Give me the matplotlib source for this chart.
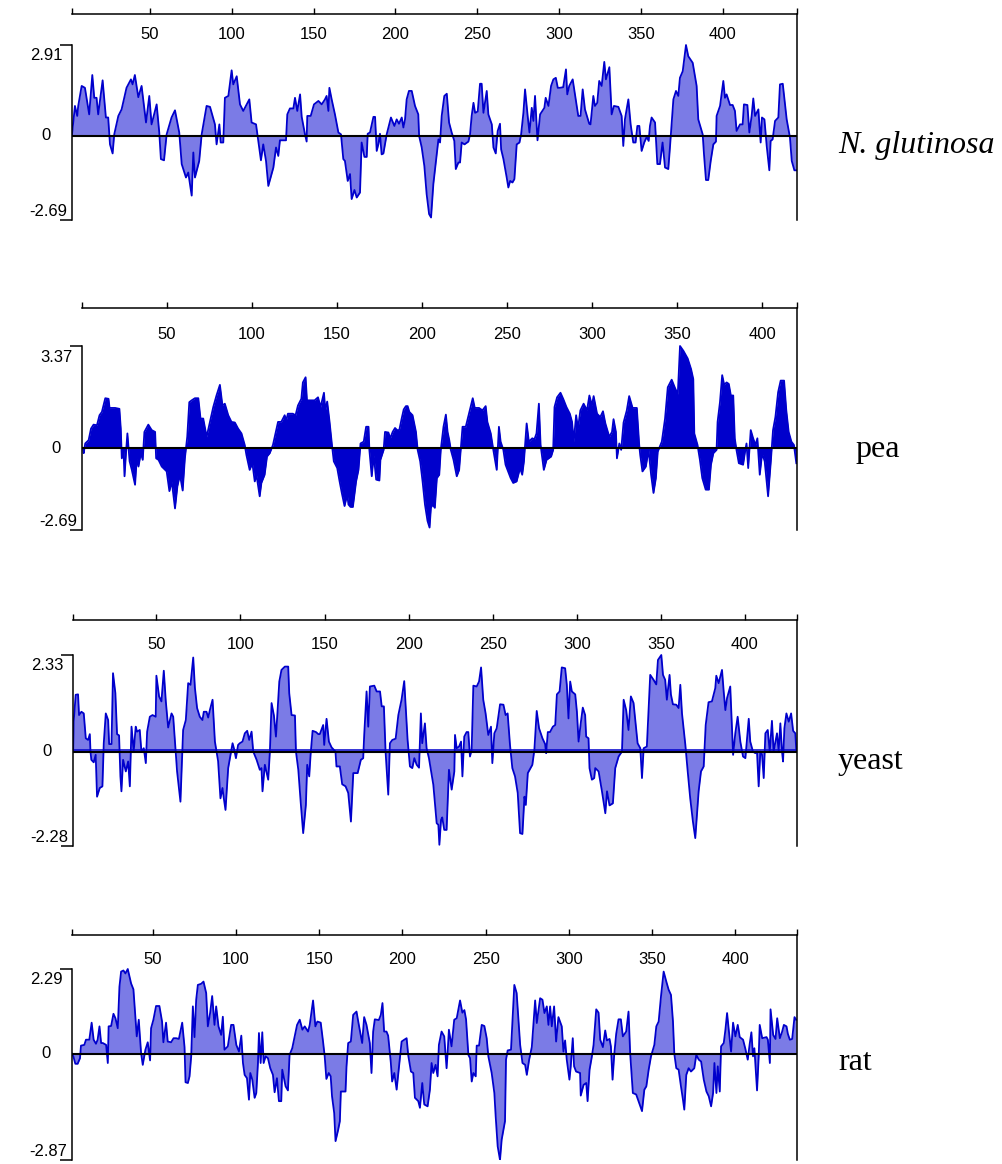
import matplotlib
matplotlib.use("Agg")
import matplotlib.pyplot as plt

# hydropathy values, (residue, value)
nglut = [
    (2.5, 0.05), (4.3, 0.96), (5.7, 0.64), (6.3, 0.96), (8.4, 1.6), (10.4, 1.54), (13.0, 0.69), (14.9, 1.95),
    (16.1, 1.22), (17.5, 1.22), (18.5, 0.69), (21.2, 1.78), (23.2, 0.59), (24.6, 0.59), (25.7, -0.27), (27.3, -0.56),
    (28.3, 0.05), (30.8, 0.64), (32.8, 0.85), (35.8, 1.54), (38.5, 1.81), (39.5, 1.65), (40.9, 1.95), (43.0, 1.24),
    (45.0, 1.6), (47.7, 0.43), (49.7, 1.28), (51.1, 0.37), (54.2, 1.01), (55.8, 0.11), (56.8, -0.74), (58.7, -0.78),
    (60.3, 0.05), (63.3, 0.59), (65.4, 0.82), (68.0, 0.11), (69.5, -0.9), (72.1, -1.33), (73.5, -1.17), (75.6, -1.91),
    (76.6, -0.53), (77.6, -1.33), (80.2, -0.8), (81.7, 0.05), (84.7, 0.96), (86.8, 0.93), (89.8, 0.37), (90.8, -0.27),
    (92.5, 0.37), (93.3, -0.21), (94.9, -0.21), (95.9, 1.22), (98.0, 1.28), (100.0, 2.1), (101.0, 1.65), (103.1, 1.91),
    (105.1, 1.01), (107.1, 0.8), (110.8, 1.17), (112.2, 0.43), (114.9, 0.37), (116.3, -0.16), (117.9, -0.78), (119.3, -0.27),
    (121.0, -0.8), (122.4, -1.6), (125.5, -1.01), (127.1, -0.37), (128.5, -0.64), (129.5, -0.14), (133.2, -0.14), (134.0, 0.69),
    (135.6, 0.88), (137.7, 0.88), (138.7, 1.22), (140.1, 0.8), (141.8, 1.33), (142.8, 0.61), (144.8, 0.05), (145.8, -0.18),
    (146.2, 0.64), (148.3, 0.64), (150.3, 1.01), (153.0, 1.12), (155.0, 1.01), (157.0, 1.17), (158.0, 1.28), (159.1, 0.8),
    (159.7, 1.54), (161.1, 1.17), (163.1, 0.69), (165.2, 0.11), (166.8, 0.05), (168.2, -0.74), (169.2, -0.8), (170.9, -1.44),
    (172.3, -1.22), (173.3, -2.02), (175.0, -1.73), (176.4, -1.97), (178.4, -1.81), (179.4, -0.21), (181.1, -0.67), (182.5, -0.67),
    (183.1, 0.07), (184.5, 0.11), (186.6, 0.61), (187.6, 0.61), (188.6, -0.48), (189.6, -0.27), (190.6, 0.07), (191.6, -0.59),
    (192.7, -0.56), (194.7, 0.05), (197.3, 0.59), (199.4, 0.32), (200.8, 0.53), (202.2, 0.39), (203.9, 0.59), (204.9, 0.27),
    (205.9, 0.53), (206.9, 1.17), (208.3, 1.44), (210.0, 1.44), (212.0, 0.96), (214.0, 0.69), (214.5, 0.0), (216.1, -0.37),
    (217.7, -0.96), (219.1, -1.86), (220.6, -2.5), (221.8, -2.61), (223.2, -1.54), (224.6, -0.9), (226.3, -0.11), (227.3, -0.21),
    (228.3, 0.64), (229.9, 1.28), (231.4, 1.35), (232.8, 0.43), (234.4, 0.11), (236.0, -0.16), (236.9, -1.06), (238.5, -0.85),
    (239.5, -0.85), (240.5, -0.21), (242.2, -0.27), (244.6, -0.18), (245.6, 0.05), (246.6, 0.64), (247.7, 1.06), (248.7, 0.74),
    (250.3, 0.78), (251.7, 1.67), (252.7, 1.67), (253.8, 0.74), (255.8, 1.44), (256.8, 0.69), (258.9, 0.37), (259.9, -0.37),
    (261.3, -0.56), (262.5, 0.16), (263.9, 0.39), (264.6, -0.43), (266.0, -0.74), (268.0, -1.33), (269.0, -1.65), (270.1, -1.44),
    (271.5, -1.49), (272.7, -1.38), (274.1, -0.27), (275.8, -0.21), (276.8, 0.05), (278.2, 0.74), (279.2, 1.49), (280.8, 0.64),
    (281.9, 0.11), (283.3, 0.9), (284.3, 0.48), (285.3, 1.28), (286.8, -0.14), (288.4, 0.69), (291.0, 0.9), (291.8, 1.22),
    (293.5, 0.96), (295.1, 1.6), (296.5, 1.81), (298.0, 1.86), (299.2, 1.54), (300.5, 1.54), (302.5, 1.56), (304.2, 2.13),
    (305.0, 1.33), (306.2, 1.6), (308.3, 1.81), (309.7, 1.33), (311.7, 0.64), (313.1, 0.64), (314.4, 1.49), (315.8, 0.85),
    (318.4, 0.39), (319.2, 0.37), (320.9, 1.28), (321.9, 0.96), (323.3, 1.06), (324.5, 1.76), (326.0, 1.6), (327.6, 2.37),
    (328.6, 1.81), (330.7, 2.2), (332.1, 0.69), (333.5, 0.96), (336.2, 0.93), (338.2, 0.64), (339.2, -0.32), (340.2, 0.53),
    (342.3, 1.17), (343.7, 0.37), (345.3, -0.21), (346.7, -0.21), (347.8, 0.32), (349.0, 0.32), (350.4, -0.48), (352.0, -0.21),
    (353.5, -0.03), (354.7, -0.16), (355.5, 0.32), (356.5, 0.59), (358.6, 0.43), (360.0, -0.9), (361.6, -0.9), (363.2, -0.21),
    (364.7, -1.01), (366.7, -1.06), (367.7, -0.37), (369.8, 1.17), (371.4, 1.44), (372.8, 1.28), (373.8, 1.86), (375.5, 2.07),
    (377.5, 2.91), (378.9, 2.55), (381.6, 2.34), (384.0, 1.6), (385.0, 0.53), (387.7, 0.05), (388.5, -0.59), (389.7, -1.41),
    (391.1, -1.41), (392.6, -0.8), (394.2, -0.27), (395.8, -0.18), (396.2, 0.64), (398.3, 0.96), (400.3, 1.76), (401.3, 1.22),
    (402.3, 1.33), (404.4, 0.99), (406.0, 0.99), (407.4, 0.8), (408.4, 0.16), (410.5, 0.37), (412.1, 0.37), (412.9, 1.01),
    (415.0, 0.99), (416.2, 0.11), (417.6, 0.64), (418.6, 1.2), (419.7, 0.64), (421.7, 0.85), (423.1, -0.21), (423.9, 0.59),
    (425.4, 0.53), (426.8, -0.32), (428.4, -1.1), (429.2, -0.16), (430.4, -0.11), (431.9, 0.48), (433.9, 0.59), (434.9, 1.65),
    (436.6, 1.67), (439.0, 0.53), (441.0, -0.05), (442.1, -0.8), (443.7, -1.1), (444.8, -1.1),
]

pea = [
    (0.6, 0.0), (1.0, -0.16), (1.9, 0.16), (3.9, 0.27), (5.3, 0.65), (6.8, 0.78), (8.8, 0.76), (10.3, 1.09),
    (11.7, 1.2), (13.7, 1.65), (15.6, 1.63), (16.2, 1.33), (19.5, 1.33), (22.0, 1.3), (22.8, 0.65), (23.4, -0.33),
    (24.4, -0.05), (25.0, -0.92), (26.0, -0.05), (26.7, 0.49), (28.0, -0.43), (29.3, -0.71), (31.2, -1.2), (32.2, -0.33),
    (33.2, -0.6), (34.6, -0.16), (35.7, -0.38), (36.7, 0.54), (39.0, 0.78), (41.0, 0.6), (43.0, 0.54), (43.6, -0.33),
    (45.0, -0.38), (46.9, -0.6), (49.8, -0.76), (51.4, -1.41), (52.8, -1.09), (54.7, -1.98), (56.1, -1.25), (57.6, -0.87),
    (59.2, -1.39), (60.5, -0.33), (61.9, 0.38), (63.1, 1.52), (64.5, 1.58), (66.4, 1.65), (68.4, 1.65), (69.7, 0.98),
    (71.3, 0.98), (73.3, 0.38), (74.8, 0.76), (77.2, 1.36), (79.1, 1.74), (81.1, 2.09), (82.6, 1.41), (84.0, 1.47),
    (86.0, 1.09), (87.9, 0.87), (89.9, 0.85), (91.8, 0.65), (93.8, 0.49), (95.7, 0.11), (96.7, -0.22), (98.6, -0.71),
    (100.2, -0.49), (101.6, -1.09), (102.6, -0.87), (104.5, -1.58), (105.5, -1.14), (107.4, -0.87), (108.8, -0.27), (110.4, -0.16),
    (112.3, 0.11), (115.3, 0.87), (117.2, 0.87), (119.2, 1.09), (120.1, 0.92), (121.1, 1.14), (124.0, 1.14), (125.6, 1.09),
    (127.0, 1.41), (129.0, 1.63), (129.9, 2.17), (131.5, 2.34), (132.3, 1.58), (133.8, 1.58), (136.8, 1.58), (138.8, 1.68),
    (140.3, 1.36), (142.3, 1.83), (143.1, 1.25), (144.2, 1.54), (145.6, 0.87), (147.0, 0.11), (148.1, -0.43), (150.1, -0.65),
    (151.5, -1.09), (152.8, -1.47), (154.4, -1.9), (156.0, -1.52), (156.7, -1.85), (157.9, -1.93), (159.3, -1.93), (161.2, -1.09),
    (162.6, -0.71), (163.8, 0.16), (165.7, 0.22), (167.1, 0.71), (168.5, 0.71), (169.0, -0.05), (170.4, -0.92), (171.6, -0.22),
    (173.0, -1.03), (174.9, -1.06), (175.5, -0.38), (177.4, -0.05), (178.2, 0.54), (180.2, 0.52), (181.3, 0.33), (182.7, 0.54),
    (184.1, 0.67), (185.3, 0.6), (186.6, 0.6), (188.0, 0.98), (189.2, 1.28), (190.5, 1.39), (191.5, 1.39), (192.5, 1.2),
    (194.4, 1.09), (196.4, 0.54), (197.4, -0.05), (198.9, -0.43), (200.3, -1.09), (201.7, -1.85), (203.2, -2.39), (204.4, -2.61),
    (205.2, -1.96), (206.2, -1.85), (207.5, -1.96), (208.7, -0.98), (210.1, -0.87), (211.0, -0.05), (212.6, 0.71), (214.0, 1.11),
    (215.0, 0.54), (216.0, 0.27), (216.9, -0.05), (218.5, -0.38), (220.4, -0.92), (221.8, -0.71), (222.8, 0.0), (223.8, 0.71),
    (225.7, 0.71), (227.1, 1.03), (228.6, 1.36), (229.8, 1.65), (231.0, 1.33), (233.5, 1.33), (235.5, 1.25), (237.4, 1.39),
    (238.4, 0.87), (240.4, 0.49), (241.9, -0.05), (243.9, -0.71), (245.2, 0.71), (246.2, 0.22), (247.8, -0.05), (249.1, -0.54),
    (252.1, -0.98), (253.6, -1.14), (255.6, -1.09), (257.6, -0.65), (258.9, -0.87), (259.9, -0.43), (261.5, 0.82), (262.8, 0.22),
    (264.8, 0.33), (266.1, 0.3), (267.3, 0.49), (268.7, 1.47), (269.7, 0.11), (271.6, -0.71), (273.2, -0.38), (275.9, -0.27),
    (277.1, -0.05), (277.9, 1.36), (279.4, 1.68), (281.4, 1.83), (283.0, 1.63), (284.9, 1.36), (286.9, 1.14), (288.2, 0.87),
    (289.2, 0.22), (290.6, 1.09), (291.7, 0.65), (293.1, 1.25), (295.0, 1.47), (297.0, 1.25), (298.4, 1.74), (299.9, 1.41),
    (300.9, 1.72), (302.9, 1.14), (304.8, 1.03), (306.4, 1.22), (307.8, 0.82), (310.1, 0.38), (311.7, 0.54), (312.6, 0.96),
    (314.0, 0.54), (314.6, -0.33), (316.0, 0.16), (317.1, -0.05), (318.5, 0.85), (320.4, 1.25), (321.8, 1.72), (323.8, 1.33),
    (326.3, 1.33), (327.7, 0.11), (328.3, -0.22), (329.6, -0.76), (331.6, -0.6), (333.2, -0.05), (334.7, -0.87), (336.1, -1.47),
    (337.5, -0.98), (338.6, -0.11), (341.0, 0.22), (342.9, 0.98), (344.5, 2.01), (346.8, 2.26), (348.8, 1.98), (350.4, 1.79),
    (351.7, 3.37), (353.7, 3.21), (356.2, 2.96), (358.2, 2.61), (359.5, 2.28), (360.1, 0.49), (362.0, 0.11), (363.4, -0.38),
    (364.8, -0.98), (366.8, -1.36), (368.7, -1.36), (369.9, -0.54), (371.3, -0.16), (373.2, -0.05), (373.8, 0.87), (375.2, 1.52),
    (376.5, 2.41), (377.7, 2.09), (379.1, 2.17), (380.4, 2.12), (381.6, 1.74), (383.0, 1.74), (383.9, 0.33), (384.9, -0.05),
    (386.3, -0.49), (388.8, -0.54), (389.8, -0.16), (390.8, 0.16), (391.8, -0.65), (393.3, 0.6), (394.7, 0.33), (396.1, 0.11),
    (397.2, 0.33), (398.6, -0.87), (400.0, -0.16), (401.5, -0.43), (403.5, -1.58), (405.1, -0.43), (406.4, 0.6), (407.8, 1.03),
    (409.4, 1.85), (410.9, 2.23), (412.9, 2.23), (414.2, 1.25), (415.6, 0.54), (417.2, 0.22), (418.7, 0.11), (420.1, -0.49),
]

yeast = [
    (0.5, 0.02), (0.8, 0.72), (2.0, 1.37), (3.4, 1.38), (4.0, 0.88), (5.4, 0.96), (6.8, 0.92), (8.0, 0.32),
    (9.4, 0.28), (10.4, 0.42), (10.8, 0.0), (11.3, -0.2), (12.7, -0.26), (13.9, -0.08), (14.7, -1.09), (16.3, -0.88),
    (17.9, -0.84), (18.7, 0.2), (19.9, 0.92), (21.3, 0.76), (21.9, 0.18), (23.3, 0.18), (24.2, 1.89), (25.6, 1.41),
    (26.6, 0.42), (27.8, 0.39), (28.6, -0.6), (29.2, -0.96), (30.2, -0.2), (31.8, -0.48), (33.2, -0.24), (34.2, -0.84),
    (35.2, 0.6), (36.5, 0.0), (37.7, 0.6), (38.5, 0.48), (40.1, 0.52), (41.1, 0.0), (42.5, 0.08), (43.7, -0.28),
    (44.5, 0.48), (46.1, 0.84), (47.7, 0.88), (49.6, 0.84), (50.0, 1.83), (51.6, 1.33), (53.0, 1.21), (54.4, 1.95),
    (55.6, 1.21), (57.0, 0.58), (59.0, 0.92), (60.0, 0.84), (62.3, -0.48), (64.3, -1.21), (65.9, 0.52), (67.5, 0.76),
    (68.9, 1.65), (70.3, 1.61), (71.9, 2.27), (72.9, 1.54), (74.2, 1.05), (75.8, 0.84), (77.4, 0.76), (78.2, 0.96),
    (79.8, 0.96), (80.8, 0.82), (81.8, 1.0), (83.4, 1.25), (84.8, 0.24), (86.7, -0.23), (88.1, -1.13), (89.3, -0.88),
    (90.1, -1.13), (91.1, -1.41), (92.7, -0.4), (94.1, -0.08), (95.3, 0.2), (96.1, 0.08), (97.3, -0.16), (98.6, 0.16),
    (99.6, 0.2), (101.2, 0.24), (102.6, 0.44), (104.0, 0.5), (105.2, 0.28), (106.6, 0.48), (107.6, 0.0), (109.6, -0.2),
    (111.5, -0.44), (112.5, -0.4), (113.1, -0.96), (114.5, -0.32), (116.5, -0.68), (117.5, 0.0), (118.5, 1.17), (119.9, 0.87),
    (121.1, 0.36), (121.9, 0.87), (123.1, 1.69), (124.4, 1.97), (126.4, 2.05), (128.4, 2.05), (129.0, 1.41), (130.4, 0.88),
    (132.4, 0.87), (133.0, 0.0), (134.4, -0.44), (135.8, -1.21), (137.3, -1.97), (138.9, -1.29), (139.7, -0.32), (140.9, -0.6),
    (141.7, -0.08), (142.9, 0.5), (144.9, 0.47), (146.3, 0.42), (147.2, 0.42), (149.2, 0.64), (149.8, 0.16), (151.2, 0.79),
    (152.6, 0.24), (154.2, 0.1), (156.5, 0.0), (157.1, -0.36), (159.1, -0.36), (160.5, -0.79), (162.5, -0.84), (164.1, -1.0),
    (165.7, -1.69), (167.1, -0.52), (169.7, -0.52), (171.6, -0.2), (173.0, -0.16), (173.6, 0.4), (175.0, 1.45), (176.0, 0.6),
    (177.0, 1.57), (179.6, 1.59), (181.0, 1.45), (183.0, 1.45), (184.0, 1.09), (185.3, 1.09), (186.3, 0.0), (187.9, -1.04),
    (188.9, 0.2), (190.3, 0.28), (192.3, 0.31), (193.9, 0.88), (195.8, 1.25), (197.4, 1.7), (199.4, 0.28), (200.8, -0.36),
    (202.2, -0.4), (203.4, -0.16), (204.8, -0.32), (206.2, -0.39), (207.3, 0.92), (208.1, 0.2), (209.7, 0.68), (210.7, 0.08),
    (212.1, -0.16), (214.7, -0.8), (216.7, -1.73), (217.7, -1.77), (218.3, -2.25), (219.3, -1.65), (220.0, -1.59), (221.2, -1.89),
    (222.6, -1.89), (224.0, -0.44), (225.6, -0.92), (227.2, -0.48), (227.6, 0.4), (228.6, 0.08), (230.0, 0.12), (231.2, 0.24),
    (232.0, -0.6), (233.1, 0.36), (234.5, 0.47), (235.5, 0.47), (236.5, -0.12), (237.5, 0.04), (238.5, 1.59), (240.5, 1.57),
    (241.9, 1.69), (243.1, 2.03), (244.4, 1.25), (245.8, 0.92), (247.4, 0.4), (249.0, 0.6), (249.8, -0.28), (251.0, 0.44),
    (252.4, 0.56), (254.4, 1.14), (256.4, 1.13), (257.7, 0.88), (258.9, 0.92), (260.3, 0.16), (261.7, -0.4), (263.3, -0.6),
    (264.9, -1.0), (266.3, -1.97), (267.7, -1.99), (268.9, -1.09), (269.7, -1.29), (270.9, -0.52), (273.6, -0.32), (274.8, 0.04),
    (276.2, 0.98), (277.6, 0.56), (279.6, 0.32), (281.2, 0.18), (281.8, -0.04), (282.8, 0.47), (284.1, 0.47), (285.8, 0.6),
    (287.2, 0.64), (288.2, 1.38), (289.8, 1.45), (291.1, 2.03), (293.1, 2.01), (294.1, 1.61), (295.1, 0.8), (296.1, 1.69),
    (297.1, 1.45), (299.1, 1.38), (300.1, 0.96), (301.1, 0.24), (302.5, 0.72), (303.6, 1.06), (305.0, 0.88), (305.6, 0.36),
    (307.0, 0.32), (307.6, -0.4), (309.0, -0.68), (310.4, -0.64), (311.0, -0.4), (313.0, -0.48), (315.0, -0.96), (317.0, -1.49),
    (318.0, -0.96), (319.5, -1.3), (321.5, -1.25), (322.9, -0.4), (324.9, -0.12), (326.9, 0.0), (327.9, 1.25), (329.4, 1.0),
    (330.8, 0.52), (332.2, 1.33), (333.8, 1.17), (336.2, 0.2), (337.8, 0.08), (338.8, -0.64), (339.8, 0.08), (341.7, 0.12),
    (343.7, 1.85), (345.7, 1.73), (347.3, 1.62), (348.3, 2.21), (350.3, 2.33), (351.3, 1.85), (352.6, 1.73), (353.6, 1.25),
    (355.2, 1.85), (356.0, 1.38), (357.2, 1.14), (359.2, 1.13), (360.6, 1.05), (361.6, 1.61), (362.6, 0.92), (364.6, 0.16),
    (366.0, -0.48), (367.5, -1.13), (369.1, -1.69), (370.5, -2.09), (371.5, -1.53), (372.5, -0.96), (373.9, -0.48), (375.5, -0.36),
    (376.7, 0.64), (378.4, 1.19), (380.4, 1.21), (381.4, 1.37), (382.4, 1.53), (383.0, 1.83), (384.4, 1.65), (386.4, 1.97),
    (387.4, 1.45), (388.4, 1.0), (389.4, 1.29), (391.3, 1.57), (393.0, -0.08), (394.3, 0.44), (395.7, 0.84), (397.3, 0.24),
    (398.9, -0.12), (400.3, -0.16), (401.3, 0.32), (402.3, 0.79), (403.2, 0.24), (404.8, 0.0), (406.2, -0.04), (407.2, 0.0),
    (408.2, -0.84), (409.2, 0.0), (410.2, -0.08), (411.2, -0.64), (412.2, 0.44), (413.6, 0.52), (414.8, 0.0), (416.1, 0.74),
    (417.1, 0.0), (419.1, 0.44), (420.1, 0.02), (421.1, 0.68), (422.1, 0.0), (422.7, -0.24), (423.5, 0.56), (424.7, 0.92),
    (426.1, 0.72), (427.5, 0.92), (428.7, 0.5), (430.0, 0.44), (430.6, 0.02),
]

rat = [
    (1.5, 0.0), (2.3, -0.07), (3.5, -0.27), (4.9, -0.27), (6.3, -0.12), (6.9, 0.22), (8.9, 0.24), (9.9, 0.38),
    (11.9, 0.38), (13.3, 0.84), (14.5, 0.38), (15.9, 0.27), (16.9, 0.38), (18.0, 0.74), (19.0, 0.29), (20.0, 0.29),
    (22.0, 0.24), (23.0, -0.25), (23.5, 0.74), (25.0, 0.75), (26.4, 1.08), (27.6, 0.96), (29.0, 0.69), (30.0, 1.81),
    (31.0, 2.22), (32.4, 2.25), (33.6, 2.17), (35.0, 2.29), (37.0, 1.9), (38.4, 1.74), (39.6, 0.96), (40.4, 0.47),
    (41.6, 0.92), (43.0, 0.02), (44.0, -0.3), (45.6, 0.11), (47.0, 0.31), (48.4, -0.18), (49.0, 0.69), (50.4, 0.92),
    (52.0, 1.29), (54.0, 1.29), (55.6, 0.87), (56.4, 0.31), (58.0, 0.84), (59.0, 0.33), (61.0, 0.31), (62.5, 0.42),
    (64.1, 0.42), (65.7, 0.4), (67.7, 0.84), (69.1, 0.18), (69.7, -0.77), (71.1, -0.79), (72.1, -0.61), (73.1, -0.07),
    (74.1, 1.28), (75.1, 0.45), (76.1, 1.46), (77.1, 1.86), (79.1, 1.89), (80.5, 1.95), (82.1, 1.64), (83.1, 0.74),
    (84.5, 1.11), (85.7, 1.56), (87.1, 0.78), (88.1, 1.28), (89.5, 0.74), (91.1, 0.51), (92.1, 1.0), (93.1, 0.11),
    (95.1, 0.2), (97.1, 0.78), (98.5, 0.78), (100.2, 0.24), (101.8, 0.06), (103.2, 0.49), (104.2, -0.25), (105.2, -0.57),
    (106.6, -0.66), (107.8, -1.24), (108.6, -0.52), (109.8, -0.7), (111.2, -1.19), (112.2, -1.06), (113.2, -0.25), (113.8, 0.56),
    (114.8, -0.25), (115.8, 0.58), (116.6, -0.25), (117.8, -0.07), (119.2, -0.12), (120.6, -0.39), (122.2, -0.57), (123.2, -1.04),
    (124.6, -0.66), (125.8, -1.28), (127.2, -1.28), (127.8, -0.43), (129.8, -0.88), (131.2, -0.99), (132.2, -0.03), (133.8, 0.15),
    (135.3, 0.47), (136.7, 0.78), (138.3, 0.92), (139.9, 0.65), (141.3, 0.74), (143.3, 0.6), (144.3, 0.78), (146.3, 1.44),
    (147.7, 0.74), (148.9, 0.87), (150.9, 0.84), (152.3, 0.33), (153.3, -0.07), (154.3, -0.68), (155.7, -0.52), (156.9, -0.61),
    (157.7, -1.15), (159.0, -1.6), (159.8, -2.36), (161.4, -2.05), (162.4, -1.82), (163.0, -1.02), (165.8, -1.02), (166.4, -0.34),
    (167.4, 0.29), (169.0, 0.33), (170.4, 1.05), (172.4, 1.14), (173.8, 0.78), (175.8, 0.29), (177.0, 0.99), (178.4, 0.78),
    (180.4, 0.29), (181.4, -0.52), (182.4, 0.6), (183.4, 0.93), (185.8, 0.91), (187.0, 1.05), (188.0, 1.37), (189.0, 0.6),
    (190.4, 0.6), (191.4, 0.49), (193.0, -0.23), (193.8, -0.75), (195.1, -0.52), (196.5, -0.97), (198.5, -0.12), (199.5, 0.33),
    (201.1, 0.38), (202.5, 0.42), (203.5, -0.05), (205.1, -0.48), (206.5, -0.52), (207.5, -1.19), (209.5, -1.28), (210.5, -1.46),
    (211.9, -0.79), (213.1, -1.37), (215.1, -1.42), (216.5, -0.97), (217.5, -0.25), (218.5, -0.52), (219.9, -0.3), (221.1, -0.61),
    (221.9, 0.24), (223.5, 0.6), (225.1, 0.47), (226.5, -0.39), (227.1, 0.0), (227.9, 0.65), (229.5, 0.2), (231.1, 0.92),
    (232.6, 0.96), (234.6, 1.44), (236.0, 1.11), (237.2, 1.18), (238.2, 0.93), (239.6, -0.03), (240.6, -0.12), (241.6, -0.75),
    (242.6, -0.52), (244.0, -0.61), (244.6, 0.22), (246.0, 0.22), (247.6, 0.78), (249.2, 0.75), (250.6, 0.42), (251.6, -0.07),
    (253.6, -0.52), (255.2, -1.06), (256.0, -1.69), (257.2, -2.5), (258.6, -2.87), (259.6, -2.32), (261.6, -1.82), (262.2, -0.16),
    (263.2, 0.09), (265.2, 0.11), (267.2, 1.86), (268.6, 1.64), (270.7, 0.24), (272.1, -0.25), (273.7, -0.3), (274.7, -0.57),
    (276.1, -0.16), (277.7, 0.18), (279.7, 1.44), (280.7, 0.83), (282.7, 1.5), (284.1, 1.46), (285.3, 1.1), (286.7, 1.28),
    (287.7, 0.78), (288.7, 1.28), (289.7, 0.74), (291.1, 1.28), (292.3, 0.33), (293.7, 0.99), (295.7, 0.74), (296.7, 0.06),
    (297.7, 0.36), (298.7, -0.16), (300.3, -0.7), (301.1, -0.34), (302.3, 0.42), (303.1, -0.34), (304.3, -0.48), (306.7, -0.52),
    (307.1, -1.13), (308.8, -0.84), (310.4, -0.79), (311.2, -1.28), (312.4, -0.43), (313.8, -0.07), (314.8, 0.24), (316.4, 1.2),
    (317.8, 1.11), (318.8, 0.38), (320.4, 0.18), (321.8, 0.63), (322.8, 0.36), (324.4, 0.4), (325.2, 0.2), (326.2, -0.7),
    (327.2, -0.03), (328.4, 0.54), (329.8, 0.93), (331.2, 0.93), (332.4, 0.47), (334.4, 0.6), (335.8, 1.14), (336.8, 0.0),
    (338.4, -1.06), (340.4, -1.1), (341.8, -1.28), (343.9, -1.55), (345.3, -0.97), (346.5, -0.88), (347.9, -0.43), (349.3, -0.07),
    (351.3, 0.24), (352.5, 0.74), (353.9, 0.87), (355.3, 1.55), (356.9, 2.22), (358.5, 1.95), (359.9, 1.73), (361.3, 1.59),
    (362.5, 0.87), (363.3, 0.0), (364.5, -0.39), (365.9, -0.43), (367.3, -0.88), (368.5, -1.24), (369.3, -1.51), (370.5, -0.57),
    (371.9, -0.39), (373.3, -0.48), (375.3, -0.39), (376.5, -0.03), (378.0, -0.16), (379.4, -0.21), (381.0, -0.7), (382.6, -1.02),
    (384.0, -1.15), (385.4, -1.42), (386.6, -1.06), (387.4, -0.25), (388.6, -1.06), (389.4, -0.34), (390.6, -1.02), (391.4, 0.2),
    (393.0, 0.29), (394.0, 0.65), (395.0, 1.1), (396.0, 0.65), (397.4, 0.06), (398.6, 0.84), (400.0, 0.47), (401.4, 0.78),
    (402.6, 0.45), (404.6, 0.38), (406.0, 0.13), (407.4, -0.16), (408.6, 0.27), (409.6, 0.58), (410.6, -0.07), (411.4, 0.15),
    (413.0, -0.99), (414.0, -0.07), (414.6, 0.78), (416.1, 0.42), (418.7, 0.45), (419.5, 0.38), (420.7, -0.25), (421.1, 1.2),
    (422.7, 0.51), (424.1, 0.4), (425.1, 0.96), (426.7, 0.42), (428.1, 0.6), (429.1, 0.78), (430.7, 0.74), (431.5, 0.54),
    (432.7, 0.38), (434.1, 0.4), (435.5, 0.99), (436.5, 0.92),
]

names = ["N. glutinosa", "pea", "yeast", "rat"]
y_max = [2.91, 3.37, 2.33, 2.29]
y_min = [-2.69, -2.69, -2.28, -2.87]
x_range = [(2.5, 445.3), (0.0, 420.5), (0.4, 431.0), (1.5, 437.0)]
x_ticks = [50, 100, 150, 200, 250, 300, 350, 400]

# pixel layout: left, right, top spine, y_max level, y_min level
boxes = [(72, 797, 14, 45, 220), (82, 797, 308, 346, 530),
         (73, 797, 620, 655, 846), (72, 797, 935, 969, 1160)]
label_pad = [-24.5, -29, -27.5, -27.5]   # top tick labels sit below the spine
name_pos = [(838, 146), (855, 449), (838, 761), (838, 1062)]

LINE = "#0000cc"
LIGHT = "#7b7be6"
W, H = 1002, 1164
SANS = "Liberation Sans"

fig = plt.figure(figsize=(W / 100, H / 100), dpi=100)

for i, data in enumerate([nglut, pea, yeast, rat]):
    left, right, top, yt, yb = boxes[i]
    lo, hi = y_min[i], y_max[i]
    ppu = (yb - yt) / (hi - lo)
    ax = fig.add_axes([left / W, 1 - yb / H, (right - left) / W, (yb - top) / H])
    ax.set_xlim(*x_range[i])
    ax.set_ylim(lo, lo + (yb - top) / ppu)

    xs = [p[0] for p in data]
    ys = [p[1] for p in data]
    fill = LINE if names[i] == "pea" else LIGHT
    ax.fill_between(xs, ys, 0, color=fill, lw=0)
    ax.plot(xs, ys, color=LINE, lw=1.3)
    if names[i] == "yeast":
        ax.axhline(0.04, color=LINE, lw=1.1)
    ax.axhline(0, color="black", lw=1.5)

    ax.spines["bottom"].set_visible(False)
    ax.spines["left"].set_bounds(lo, hi)
    for s in ["left", "top", "right"]:
        ax.spines[s].set_linewidth(1.1)

    ax.set_yticks([lo, hi])
    ax.set_yticklabels([])
    ax.tick_params(axis="y", left=True, right=False, length=8.6, width=1.1, direction="out")

    x0, x1 = x_range[i]
    ax.set_xticks([x0] + x_ticks + [x1])
    ax.set_xticklabels([""] + [str(t) for t in x_ticks] + [""])
    ax.tick_params(axis="x", bottom=False, top=True, labelbottom=False, labeltop=True,
                   direction="out", length=4.5, width=1.0, pad=label_pad[i], labelsize=12)
    for lab in ax.get_xticklabels():
        lab.set_fontfamily(SANS)

    # y labels sit inside the left tick range
    y0 = yt + hi * ppu
    fig.text((left - 9) / W, 1 - (yt + 11) / H, f"{hi:.2f}", ha="right", va="center",
             fontsize=12, family=SANS)
    fig.text((left - 21) / W, 1 - y0 / H, "0", ha="right", va="center", fontsize=12, family=SANS)
    fig.text((left - 5) / W, 1 - (yb - 9) / H, f"{lo:.2f}", ha="right", va="center",
             fontsize=12, family=SANS)

    nx, ny = name_pos[i]
    fig.text(nx / W, 1 - ny / H, names[i], ha="left", va="center", fontsize=23,
             family="Liberation Serif", style="italic" if i == 0 else "normal")

fig.savefig("out.png", dpi=100)
